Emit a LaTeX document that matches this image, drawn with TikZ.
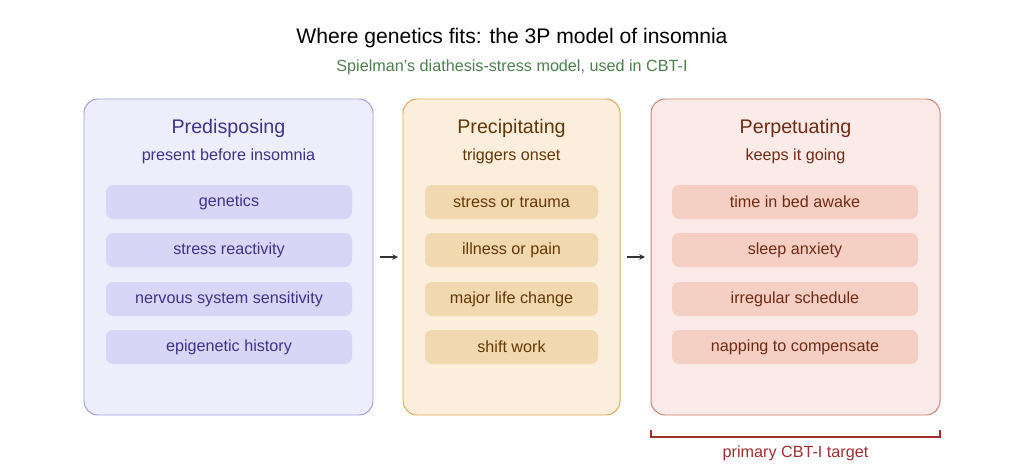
\documentclass[tikz,border=0pt]{standalone}
\usepackage{fontspec}
\setmainfont{Liberation Sans}
\usetikzlibrary{positioning}
\definecolor{predfill}{HTML}{EEEDFC}
\definecolor{preddraw}{HTML}{A39CE0}
\definecolor{preditem}{HTML}{D9D5F6}
\definecolor{predtext}{HTML}{3C3489}
\definecolor{precfill}{HTML}{FBEEDC}
\definecolor{precdraw}{HTML}{DDAA55}
\definecolor{precitem}{HTML}{F2D8AF}
\definecolor{prectext}{HTML}{633806}
\definecolor{perpfill}{HTML}{FBEBE8}
\definecolor{perpdraw}{HTML}{D0806E}
\definecolor{perpitem}{HTML}{F5CEC4}
\definecolor{perptext}{HTML}{712B13}
\definecolor{bracket}{HTML}{A32D2D}
\tikzset{
  panel/.style={draw=#1draw, fill=#1fill, rounded corners=10pt, line width=0.7pt},
  item/.style={fill=#1item, text=#1text, rounded corners=5pt, minimum height=34*0.025cm, font=\fontsize{11.5}{13}\selectfont},
  head/.style={text=#1text, font=\fontsize{14}{16}\selectfont},
  sub/.style={text=#1text, font=\fontsize{11.5}{13}\selectfont},
  flow/.style={->, >=stealth, line width=0.8pt, black!80}
}
\begin{document}
\begin{tikzpicture}[x=0.025cm, y=-0.025cm]
  \useasboundingbox (0,0) rectangle (1024,467);
  % title
  \node (title) at (512,38) {\fontsize{15}{18}\selectfont Where genetics fits: the 3P model of insomnia};
  \node[text=black!50!green!40!gray] (subtitle) at (512,67) {\fontsize{11.5}{13}\selectfont Spielman's diathesis-stress model, used in CBT-I};
  % panels
  \draw[panel=pred] (84,99) rectangle (373,415);
  \draw[panel=prec] (403,99) rectangle (620,415);
  \draw[panel=perp] (651,99) rectangle (940,415);
  \node[head=pred] (predhead) at (228.5,128) {Predisposing};
  \node[sub=pred] (predsub) at (228.5,156) {present before insomnia};
  \node[head=prec] (prechead) at (511.5,128) {Precipitating};
  \node[sub=prec] (precsub) at (511.5,156) {triggers onset};
  \node[head=perp] (perphead) at (795.5,128) {Perpetuating};
  \node[sub=perp] (perpsub) at (795.5,156) {keeps it going};
  % items
  \foreach \y/\txt [count=\i] in {202/genetics, 250/stress reactivity, 299/nervous system sensitivity, 347/epigenetic history}
    \node[item=pred, minimum width=246*0.025cm] (pred\i) at (229,\y) {\txt};
  \foreach \y/\txt [count=\i] in {202/stress or trauma, 250/illness or pain, 299/major life change, 347/shift work}
    \node[item=prec, minimum width=173*0.025cm] (prec\i) at (511.5,\y) {\txt};
  \foreach \y/\txt [count=\i] in {202/time in bed awake, 250/sleep anxiety, 299/irregular schedule, 347/napping to compensate}
    \node[item=perp, minimum width=246*0.025cm] (perp\i) at (795,\y) {\txt};
  % arrows
  \coordinate (a1) at (380,257); \coordinate (b1) at (398,257);
  \coordinate (a2) at (627,257); \coordinate (b2) at (645,257);
  \draw[flow] (a1) -- (b1);
  \draw[flow] (a2) -- (b2);
  % bracket
  \coordinate (bl) at (651,430); \coordinate (br) at (940,430);
  \draw[bracket, line width=1pt] (bl) -- ++(0,7) -| (br);
  \node[text=bracket] (target) at (795.5,453) {\fontsize{11.5}{13}\selectfont primary CBT-I target};
\end{tikzpicture}
\end{document}
